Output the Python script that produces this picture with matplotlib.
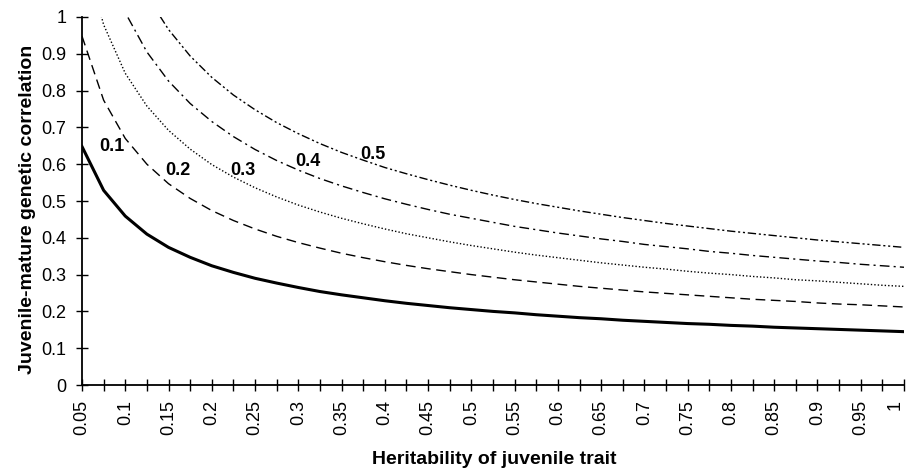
import numpy as np
import matplotlib.pyplot as plt

plt.rcParams['font.family'] = ['Liberation Sans', 'DejaVu Sans']

##==============================================================================
# heritability of the juvenile trait, in steps of 0.025
h2 = [0.05, 0.075, 0.1, 0.125, 0.15, 0.175, 0.2, 0.225, 0.25, 0.275, 0.3,
      0.325, 0.35, 0.375, 0.4, 0.425, 0.45, 0.475, 0.5, 0.525, 0.55, 0.575,
      0.6, 0.625, 0.65, 0.675, 0.7, 0.725, 0.75, 0.775, 0.8, 0.825, 0.85,
      0.875, 0.9, 0.925, 0.95, 0.975, 1.0]

r_base = [0.648, 0.529, 0.459, 0.410, 0.374, 0.347, 0.324, 0.306, 0.290,
          0.277, 0.265, 0.254, 0.245, 0.237, 0.229, 0.222, 0.216, 0.210,
          0.205, 0.200, 0.196, 0.191, 0.187, 0.183, 0.180, 0.176, 0.173,
          0.170, 0.167, 0.165, 0.162, 0.160, 0.157, 0.155, 0.153, 0.151,
          0.149, 0.147, 0.145]
r_01 = [0.948, 0.774, 0.670, 0.600, 0.547, 0.507, 0.474, 0.447, 0.424,
        0.404, 0.387, 0.372, 0.358, 0.346, 0.335, 0.325, 0.316, 0.308,
        0.300, 0.293, 0.286, 0.280, 0.274, 0.268, 0.263, 0.258, 0.253,
        0.249, 0.245, 0.241, 0.237, 0.233, 0.230, 0.227, 0.223, 0.220,
        0.218, 0.215, 0.212]
r_02 = [1.199, 0.979, 0.847, 0.758, 0.692, 0.641, 0.599, 0.565, 0.536,
        0.511, 0.489, 0.470, 0.453, 0.438, 0.424, 0.411, 0.400, 0.389,
        0.379, 0.370, 0.361, 0.353, 0.346, 0.339, 0.332, 0.326, 0.320,
        0.315, 0.309, 0.304, 0.300, 0.295, 0.291, 0.286, 0.283, 0.279,
        0.275, 0.271, 0.268]
r_03 = [1.431, 1.168, 1.012, 0.905, 0.826, 0.765, 0.716, 0.675, 0.640,
        0.610, 0.584, 0.561, 0.541, 0.523, 0.506, 0.491, 0.477, 0.464,
        0.453, 0.442, 0.431, 0.422, 0.413, 0.405, 0.397, 0.390, 0.382,
        0.376, 0.370, 0.363, 0.358, 0.352, 0.347, 0.342, 0.337, 0.333,
        0.328, 0.324, 0.320]
r_04 = [1.673, 1.366, 1.183, 1.058, 0.966, 0.894, 0.836, 0.788, 0.748,
        0.713, 0.683, 0.656, 0.632, 0.611, 0.591, 0.574, 0.558, 0.543,
        0.529, 0.516, 0.504, 0.493, 0.483, 0.473, 0.464, 0.455, 0.447,
        0.439, 0.432, 0.425, 0.418, 0.412, 0.406, 0.400, 0.394, 0.389,
        0.384, 0.379, 0.374]

# curve labels and where they sit
lab_text = ['0.1', '0.2', '0.3', '0.4', '0.5']
lab_x = [0.084, 0.161, 0.236, 0.311, 0.386]
lab_y = [0.648, 0.584, 0.582, 0.606, 0.625]

xtick_vals = [0.05, 0.1, 0.15, 0.2, 0.25, 0.3, 0.35, 0.4, 0.45, 0.5, 0.55,
              0.6, 0.65, 0.7, 0.75, 0.8, 0.85, 0.9, 0.95, 1.0]
xtick_labels = ['0.05', '0.1', '0.15', '0.2', '0.25', '0.3', '0.35', '0.4',
                '0.45', '0.5', '0.55', '0.6', '0.65', '0.7', '0.75', '0.8',
                '0.85', '0.9', '0.95', '1']
ytick_vals = [0, 0.1, 0.2, 0.3, 0.4, 0.5, 0.6, 0.7, 0.8, 0.9, 1.0]
ytick_labels = ['0', '0.1', '0.2', '0.3', '0.4', '0.5', '0.6', '0.7', '0.8',
                '0.9', '1']

##==============================================================================
fig = plt.figure(figsize=(9.1, 4.72), dpi=100)
ax = fig.add_axes([0.0901, 0.1843, 0.9033, 0.7797])

ax.plot(h2, r_base, color='black', lw=2.2, ls='-')
ax.plot(h2, r_01, color='black', lw=1.0, ls=(0, (7, 4)))
ax.plot(h2, r_02, color='black', lw=1.0, ls=(0, (1, 1.5)))
ax.plot(h2, r_03, color='black', lw=1.0, ls=(0, (7, 3, 1.5, 3)))
ax.plot(h2, r_04, color='black', lw=1.0, ls=(0, (6, 2, 1.5, 2, 1.5, 2)))

for t, x, y in zip(lab_text, lab_x, lab_y):
    ax.text(x, y, t, ha='center', va='center', fontsize=13,
            fontweight='bold')

ax.set_xlim(0.05, 1.0)
ax.set_ylim(0, 1)
ax.spines['top'].set_visible(False)
ax.spines['right'].set_visible(False)
for s in ['left', 'bottom']:
    ax.spines[s].set_linewidth(1.3)

ax.set_xticks(xtick_vals)
ax.set_xticklabels(xtick_labels, rotation=90, fontsize=13)
ax.get_xticklabels()[-1].set_ha('right')  # keep the last label inside
ax.set_xticks(np.array(h2[1::2]), minor=True)
ax.set_yticks(ytick_vals)
ax.set_yticklabels(ytick_labels, fontsize=13)
ax.tick_params(which='both', direction='inout', length=8.5, width=1.0,
               color='black')
ax.tick_params(axis='x', which='major', pad=6.5)
ax.tick_params(axis='y', which='major', pad=7)

ax.set_xlabel('Heritability of juvenile trait', fontsize=14,
              fontweight='bold')
ax.set_ylabel('Juvenile-mature genetic correlation', fontsize=14,
              fontweight='bold')
ax.xaxis.set_label_coords(0.501, -0.178)
ax.yaxis.set_label_coords(-0.056, 0.476)

fig.savefig('out.png', dpi=100)
